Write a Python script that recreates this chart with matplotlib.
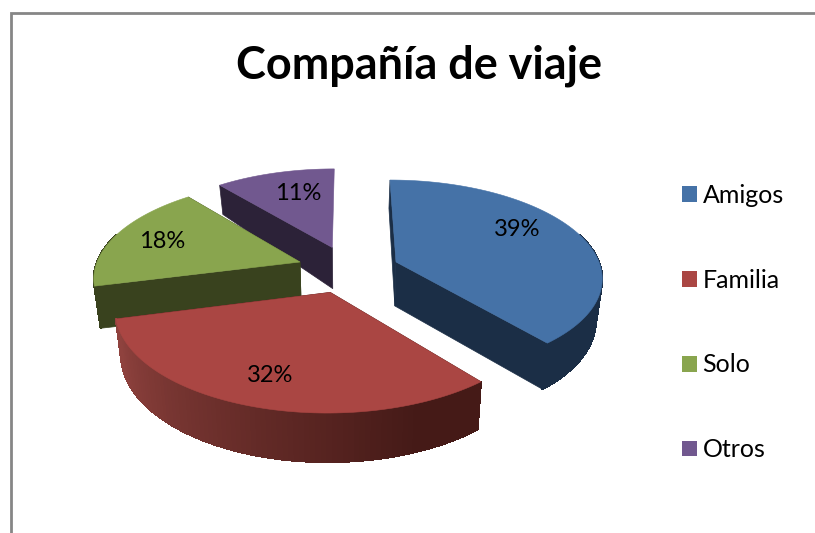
import numpy as np
import matplotlib
matplotlib.use("Agg")
import matplotlib.pyplot as plt
from matplotlib.patches import Polygon, Patch
from matplotlib.colors import to_rgb

categories = ["Amigos", "Familia", "Solo", "Otros"]
values = [39, 32, 18, 11]

title = "Compañía de viaje"
top_colors = ["#4572A7", "#AA4643", "#89A54E", "#71588F"]
side_start = ["#1B2E46", "#451A17", "#39421E", "#2C2238"]
side_end = ["#1B2E46", "#8F423E", "#39421E", "#2C2238"]
explode_x = [48, -17, -48, -16]
explode_z = [0.0, 0.31, 0.0, -0.158]
label_xy = [(517, 230), (270, 376), (162, 242), (298, 194)]
draw_order = [3, 2, 0, 1]

VX, VY, K, H, R = 348.0, 262.0, 0.143, 93.7, 203.0
DEPTH_Y = [168, 184, 247, 261, 285, 342, 412]
DEPTH_V = [26, 29, 41, 44, 42, 46, 49]
BOTTOM_SCALE = 0.975


def project(x, z):
    s = 1.0 / (1.0 - K * z)
    return VX + x * s, VY + H * z * s


def lower(px, py):
    return VX + (px - VX) * BOTTOM_SCALE, py + np.interp(py, DEPTH_Y, DEPTH_V)


plt.rcParams["font.family"] = ["Lato", "DejaVu Sans"]
fig = plt.figure(figsize=(8.15, 5.33), dpi=100)
ax = fig.add_axes([0, 0, 1, 1])
ax.set_xlim(0, 815)
ax.set_ylim(533, 0)
ax.axis("off")

ax.plot([10.5, 10.5, 815], [533, 13, 13], color="#868686", lw=2.0,
        solid_joinstyle="miter", solid_capstyle="butt")

fractions = np.array(values, dtype=float) / sum(values)
edges = np.concatenate([[0.0], np.cumsum(fractions)]) * 2 * np.pi

for i in draw_order:
    z = 2 + draw_order.index(i)
    theta = np.linspace(edges[i], edges[i + 1], 90)
    ax0, az0 = explode_x[i], explode_z[i]
    ox, oy = project(ax0 + R * np.sin(theta), az0 - np.cos(theta))
    cx, cy = project(ax0, az0)
    bx, by = lower(ox, oy)
    bcx, bcy = lower(np.array([cx]), np.array([cy]))
    bcx, bcy = bcx[0], bcy[0]
    side0, side1 = np.array(to_rgb(side_start[i])), np.array(to_rgb(side_end[i]))
    # radial faces; the last wedge's closing face looks away from the viewer
    for j in (0, -1):
        if i == len(values) - 1 and j == -1:
            continue
        ax.add_patch(Polygon([(cx, cy), (ox[j], oy[j]), (bx[j], by[j]), (bcx, bcy)],
                             closed=True, fc=side0, ec=side0, lw=0.5, zorder=z))
    # outer wall, shaded along the arc; the back of the arc is never visible
    for j in range(len(theta) - 1):
        if np.cos(theta[j]) > 0.3:
            continue
        t = j / (len(theta) - 2)
        col = side0 + (side1 - side0) * np.clip(t * 1.25 - 0.2, 0, 1)
        ax.add_patch(Polygon([(ox[j], oy[j]), (ox[j + 1], oy[j + 1]),
                              (bx[j + 1], by[j + 1]), (bx[j], by[j])],
                             closed=True, fc=col, ec=col, lw=0.8, zorder=z,
                             antialiased=False))
    pts = np.column_stack([np.r_[cx, ox], np.r_[cy, oy]])
    ax.add_patch(Polygon(pts, closed=True, fc=top_colors[i], ec=top_colors[i],
                         lw=0.4, zorder=z))

for v, (lx, ly) in zip(values, label_xy):
    ax.text(lx, ly, f"{v}%", ha="center", va="center", fontsize=17,
            color="black", zorder=10)

ax.text(418.5, 66, title, ha="center", va="center", fontsize=32.4,
        fontweight="bold", color="black")

handles = [Patch(fc=c, ec="none") for c in top_colors]
ax.legend(handles, categories, loc="upper left",
          bbox_to_anchor=(682 / 815, 1 - 184 / 533), frameon=False,
          fontsize=18, handlelength=0.6, handleheight=0.6, handletextpad=0.22,
          labelspacing=2.47, borderpad=0, borderaxespad=0)

fig.savefig("out.png", dpi=100)
